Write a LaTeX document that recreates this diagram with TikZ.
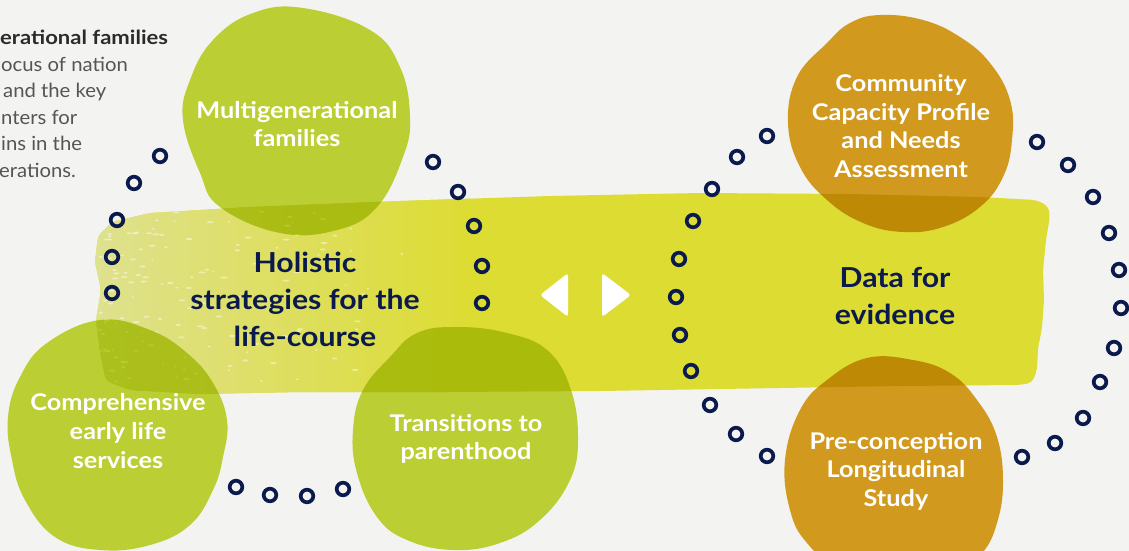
\documentclass[tikz,border=0pt]{standalone}
\usepackage{fontspec}
\setmainfont{Lato}
\newfontfamily\labelfont{Lato}[FakeStretch=1.1]
\newfontfamily\sidefont{Lato}[FakeStretch=1.04]
\newfontfamily\sideboldfont{Lato Bold}[FakeStretch=1.13]
\definecolor{bgc}{HTML}{F3F3F1}
\definecolor{bandc}{HTML}{DDDC33}
\definecolor{bandlight}{HTML}{DEE18E}
\definecolor{greenc}{HTML}{C5D937}
\definecolor{orangec}{HTML}{DCA120}
\definecolor{navy}{HTML}{0B1A4C}
\definecolor{sidegrey}{HTML}{555555}
\definecolor{sidedark}{HTML}{2B2B2B}
\begin{document}
\begin{tikzpicture}[x=1pt,y=-1pt,
  ring/.style={draw=navy,line width=3.7pt},
  blobtext/.style={text=white,align=center,font=\labelfont\fontsize{23}{28.6}\selectfont\bfseries,inner sep=0pt},
  hubtext/.style={text=navy,align=center,font=\labelfont\fontsize{27.5}{37}\selectfont\bfseries,inner sep=0pt},
  sidereg/.style={text=sidegrey,anchor=base west,inner sep=0pt,font=\sidefont\fontsize{19.5}{24}\selectfont},
  sidebold/.style={text=sidedark,anchor=base west,inner sep=0pt,font=\sideboldfont\fontsize{19.5}{24}\selectfont},
  arrowtri/.style={fill=white,rounded corners=3pt}]
\useasboundingbox (0,0) rectangle (1129,551);
\clip (0,0) rectangle (1129,551);
\fill[bgc] (0,0) rectangle (1129,551);

% side text, cut at the left edge
\node[sidebold] (s1) at (0,45) {erational families};
\node[sidereg] (s2) at (1,71.4) {ocus of nation};
\node[sidereg] (s3) at (3,97.8) {and the key};
\node[sidereg] (s4) at (1,124.2) {nters for};
\node[sidereg] (s5) at (1,150.6) {ins in the};
\node[sidereg] (s6) at (-1,177) {erations.};

% brush band
\def\bandpath{(98,236) -- (112,222) -- (150,213) -- (250,207) -- (400,201) -- (550,196) -- (700,193) -- (850,194) -- (980,197) -- (1036,200) -- (1048,206) -- (1050,216) -- (1046,240) -- (1043,270) -- (1044,300) -- (1042,328) -- (1038,348) -- (1037,370) -- (1032,383) -- (1018,385) -- (900,386) -- (780,388) -- (600,391) -- (450,392) -- (300,392) -- (200,394) -- (130,390) -- (106,381) -- (100,352) -- (96,320) -- (101,290) -- (95,262) -- cycle}
\fill[bandc,rounded corners=5pt] \bandpath;
\begin{scope}
  \clip[rounded corners=5pt] \bandpath;
  \shade[left color=bandlight,right color=bandc] (95,150) rectangle (470,420);
  \pgfmathsetseed{17}
  \foreach \i in {1,...,160}{
    \pgfmathsetmacro\sx{100+340*rnd*rnd}
    \pgfmathsetmacro\sy{200+195*rnd}
    \pgfmathsetmacro\sw{1+2.8*rnd}
    \fill[white,opacity=0.45] (\sx,\sy) ellipse [x radius=\sw pt, y radius=1pt];
  }
\end{scope}

% wobbly circles
\begin{scope}[blend mode=multiply]
\fill[greenc] plot[smooth cycle,tension=0.7] coordinates {(183,120) (190,80) (213,40) (253,13) (303,8) (370,30) (400,67) (410,117) (403,157) (377,207) (337,230) (280,233) (220,207) (200,173)};
\fill[greenc] plot[smooth cycle,tension=0.7] coordinates {(100,320) (150,330) (187,353) (213,383) (227,420) (223,457) (213,490) (190,525) (150,545) (100,550) (55,537) (25,500) (12,460) (8,417) (20,377) (47,343)};
\fill[greenc] plot[smooth cycle,tension=0.7] coordinates {(457,327) (507,333) (547,350) (570,387) (578,437) (570,480) (540,520) (500,543) (453,550) (407,540) (377,517) (357,473) (353,430) (363,390) (390,357) (417,333)};
\fill[orangec] plot[smooth cycle,tension=0.7] coordinates {(880,15) (923,20) (960,37) (990,63) (1010,100) (1012,140) (1003,177) (980,207) (943,227) (903,232) (863,223) (827,200) (800,167) (788,123) (797,77) (827,43) (850,23)};
\fill[orangec] plot[smooth cycle,tension=0.7] coordinates {(867,358) (913,360) (950,373) (977,400) (997,437) (1003,483) (997,523) (983,552) (960,568) (900,578) (840,568) (807,543) (790,510) (785,460) (800,410) (827,380)};
\end{scope}

% labels
\node[blobtext] (multi) at (297,124) {Multigenerational\\families};
\node[blobtext] (comp) at (118,431) {Comprehensive\\early life\\services};
\node[blobtext] (trans) at (466,439) {Transitions to\\parenthood};
\node[blobtext] (comm) at (901,126) {Community\\Capacity Profile\\and Needs\\Assessment};
\node[blobtext] (pre) at (896,471) {Pre-conception\\Longitudinal\\Study};
\node[hubtext] (holistic) at (305,299) {Holistic\\strategies for the\\life-course};
\node[hubtext] (data) at (895,296) {Data for\\evidence};

% two-way arrow heads between the hubs
\fill[arrowtri] (568,273) -- (568,317) -- (540,295) -- cycle;
\fill[arrowtri] (602,273) -- (631,295) -- (602,317) -- cycle;

% dotted rings
\foreach \p in {(160,156),(134,183),(117,220),(112,257),(112,293),
                (433,162),(458,192),(474,226),(482,266),(482,303),
                (236,487),(270,495),(307,496),(343,489),
                (767,136),(737,157),(712,189),(693,221),(679,259),(676,297),(680,335),(691,371),(710,405),(736,434),(767,456),
                (1037,142),(1068,165),(1093,197),(1109,233),(1119,270),(1121,308),(1114,348),(1100,382),(1083,418),(1055,443),(1022,457)}
  \draw[ring] \p circle[radius=6.3pt];
\end{tikzpicture}
\end{document}
